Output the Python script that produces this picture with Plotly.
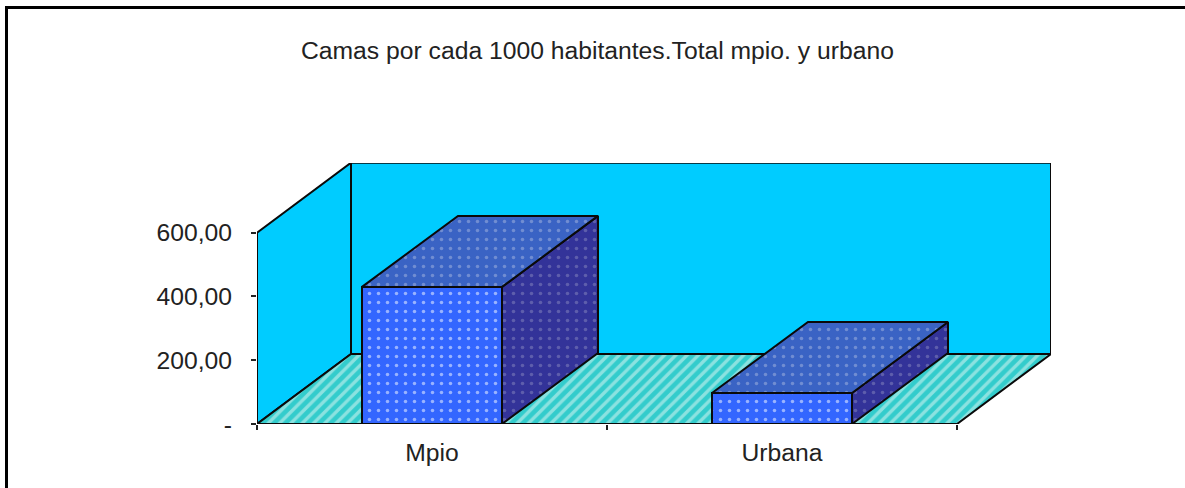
import plotly.graph_objects as go

categories = ["Mpio", "Urbana"]
values = [430, 97]
y_ticks = [0, 200, 400, 600]
y_labels = ["-", "200,00", "400,00", "600,00"]
title = "Camas por cada 1000 habitantes.Total mpio. y urbano"

W, H = 1185, 488
px_left, px_back_right, px_base, px_wall_top = 257, 1051, 424, 163
x_unit = 350.0
y_unit = 191.3 / 600
wall_dx = 94 / x_unit
wall_dy = 70 / y_unit
bar_dx = 96 / x_unit
bar_dy = 71 / y_unit
bar_w = 0.4
x0, x1 = -0.5, 1.5
y_max = 600
x_range = [x0, x0 + (px_back_right - px_left) / x_unit]
y_range = [0, (px_base - px_wall_top) / y_unit]
dom_x = [px_left / W, px_back_right / W]
dom_y = [(H - px_base) / H, (H - px_wall_top) / H]

WALL = "#00CCFF"
FRONT = "#3366FF"
TOP = "#3A63C4"
SIDE = "#333399"
OUT = dict(color="#0a0a0a", width=2)

fig = go.Figure()


def poly(xs, ys, fill, dots=None, hatch=False, axes=("x", "y")):
    kw = {}
    if dots:
        kw["fillpattern"] = dict(shape=".", bgcolor=fill, fgcolor=dots, size=9, solidity=0.12)
    elif hatch:
        kw["fillpattern"] = dict(shape="/", bgcolor=fill, fgcolor="#e4f8f4", size=8, solidity=0.42)
    else:
        kw["fillcolor"] = fill
    fig.add_trace(go.Scatter(x=xs + xs[:1], y=ys + ys[:1], mode="lines", fill="toself",
                             line=OUT, xaxis=axes[0], yaxis=axes[1], hoverinfo="skip",
                             cliponaxis=False, showlegend=False, **kw))


poly([x0, x0 + wall_dx, x0 + wall_dx, x0], [0, wall_dy, y_max + wall_dy, y_max], WALL)
poly([x0 + wall_dx, x1 + wall_dx, x1 + wall_dx, x0 + wall_dx],
     [wall_dy, wall_dy, y_max + wall_dy, y_max + wall_dy], WALL)
poly([x0, x1, x1 + wall_dx, x0 + wall_dx], [0, 0, wall_dy, wall_dy], "#33CCCC", hatch=True)

xpos = list(range(len(categories)))
fig.add_trace(go.Bar(x=xpos, y=values, width=bar_w, xaxis="x2", yaxis="y2", showlegend=False,
                     cliponaxis=False,
                     marker=dict(color=FRONT, line=OUT,
                                 pattern=dict(shape=".", bgcolor=FRONT, fgcolor="#ffffff",
                                              size=9, solidity=0.12)),
                     hovertext=categories))
for p, v in zip(xpos, values):
    l, r = p - bar_w / 2, p + bar_w / 2
    poly([r, r + bar_dx, r + bar_dx, r], [0, bar_dy, v + bar_dy, v], SIDE,
         dots="#8a8ac0", axes=("x2", "y2"))
    poly([l, r, r + bar_dx, l + bar_dx], [v, v, v + bar_dy, v + bar_dy], TOP,
         dots="#a8b8e0", axes=("x2", "y2"))

font = dict(family="Liberation Sans", size=24.7, color="#222222")
fig.update_layout(
    width=W, height=H, margin=dict(l=0, r=0, t=0, b=0),
    paper_bgcolor="white", plot_bgcolor="rgba(0,0,0,0)", showlegend=False,
    font=font,
    xaxis=dict(domain=dom_x, range=x_range, showgrid=False, zeroline=False, showline=False,
               automargin=False,
               tickmode="array", tickvals=xpos, ticktext=categories, ticks="",
               ticklabelstandoff=11, tickfont=font,
               minor=dict(tickmode="array", tickvals=[x0, 0.5, x1], ticks="outside",
                          ticklen=5, tickwidth=1.5, tickcolor="#222222")),
    yaxis=dict(domain=dom_y, range=y_range, showgrid=False, zeroline=False, showline=False,
               automargin=False,
               tickmode="array", tickvals=y_ticks, ticktext=y_labels, ticks="outside",
               ticklen=5, tickwidth=1.5, tickcolor="#222222", tickfont=font,
               ticklabelstandoff=14),
    xaxis2=dict(domain=dom_x, range=x_range, overlaying="x", visible=False),
    yaxis2=dict(domain=dom_y, range=y_range, overlaying="y", visible=False),
    annotations=[dict(text=title, xref="paper", yref="paper", x=597 / W, y=1 - 50 / H,
                      xanchor="center", yanchor="middle", showarrow=False, font=font)],
    shapes=[
        dict(type="line", xref="paper", yref="paper", x0=5 / W, x1=1, y0=1 - 7.5 / H, y1=1 - 7.5 / H,
             line=dict(color="black", width=3)),
        dict(type="line", xref="paper", yref="paper", x0=6.5 / W, x1=6.5 / W, y0=0, y1=1 - 6 / H,
             line=dict(color="black", width=3)),
    ],
)

fig.write_html("out.html", config=dict(displayModeBar=False),
               post_script="document.body.style.margin='0';")
